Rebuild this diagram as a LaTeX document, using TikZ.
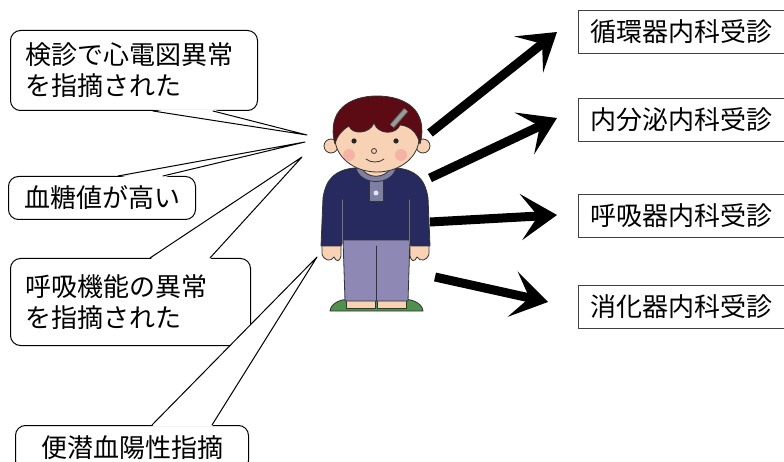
\documentclass[tikz,border=0pt]{standalone}
\usepackage{fontspec}
\setmainfont{Noto Sans CJK JP}
\usetikzlibrary{arrows.meta,calc}

\definecolor{hair}{RGB}{92,10,20}
\definecolor{skin}{RGB}{248,210,180}
\definecolor{cheek}{RGB}{242,150,150}
\definecolor{shirt}{RGB}{38,42,94}
\definecolor{collar}{RGB}{125,127,166}
\definecolor{pants}{RGB}{142,136,180}
\definecolor{shoe}{RGB}{80,145,80}

\tikzset{
  callout/.style={draw,line width=1pt,rounded corners=10pt,fill=white,inner xsep=15pt,inner ysep=4pt,anchor=north west},
  dept/.style={draw=black!75,line width=0.9pt,anchor=west,text width=206pt,align=left,inner xsep=12pt,minimum height=43pt},
  fatarrow/.style={line width=9pt,line cap=butt,-{Stealth[length=36pt,width=46pt,inset=17pt]}},
  outline/.style={draw=black!80,line width=0.8pt},
}

\begin{document}
\begin{tikzpicture}[x=1pt,y=-1pt,line cap=round,line join=round,font=\fontsize{26}{31}\selectfont]
	\useasboundingbox (0,0) rectangle (784,462);
	\clip (0,0) rectangle (784,462);
	% the boy: shoes, legs, hands, shirt
	\filldraw[outline,fill=shoe] (330,311) .. controls (331,302) and (343,298) .. (356,299) -- (397,299) .. controls (410,298) and (422,302) .. (423,311) -- cycle;
	\filldraw[outline,fill=skin] (346,296) rectangle (375,308);
	\filldraw[outline,fill=skin] (377,296) rectangle (406,308);
	\filldraw[outline,fill=pants] (343,238) -- (410,238) -- (408,301) -- (345,301) -- cycle;
	\draw[outline] (376,246) -- (376,301);
	\filldraw[outline,fill=skin] (322,244) -- (341,244) -- (341,256) .. controls (340,262) and (336,262) .. (334,257) .. controls (331,262) and (324,261) .. (322,254) -- cycle;
	\filldraw[outline,fill=skin] (429,244) -- (410,244) -- (410,256) .. controls (411,262) and (415,262) .. (417,257) .. controls (420,262) and (427,261) .. (429,254) -- cycle;
	\filldraw[outline,fill=shirt] (354,168) .. controls (336,170) and (326,178) .. (323,198) -- (321,246) -- (341,246) -- (343,240) -- (409,240) -- (411,246) -- (430,246) -- (428,198) .. controls (425,178) and (415,170) .. (397,168) -- cycle;
	\draw[black!55,line width=0.6pt] (342,200) -- (342,244);
	\draw[black!55,line width=0.6pt] (409,200) -- (409,244);
	% neck, placket and collar
	\fill[skin] (362,158) -- (362,168) .. controls (366,179) and (386,179) .. (390,168) -- (390,158) -- cycle;
	\filldraw[outline,fill=collar] (369,178) rectangle (383,201);
	\fill[white!80!collar] (376,193) circle (2.5pt);
	\filldraw[outline,fill=collar] (356,168) .. controls (360,186) and (392,186) .. (396,168) -- (390,168) .. controls (386,179) and (366,179) .. (362,168) -- cycle;
	% head
	\filldraw[outline,fill=skin] (331,146) circle (7pt);
	\filldraw[outline,fill=skin] (423,146) circle (7pt);
	\filldraw[outline,fill=skin] (377,138) ellipse (42pt and 34pt);
	\filldraw[outline,fill=hair] (335,144) .. controls (326,110) and (350,96) .. (377,96) .. controls (405,96) and (429,110) .. (420,144) .. controls (417,132) and (410,126) .. (400,125) .. controls (396,135) and (378,135) .. (374,123) .. controls (370,134) and (352,135) .. (349,126) .. controls (342,130) and (337,136) .. (335,144) -- cycle;
	\draw[black!70,line width=6pt,line cap=butt] (392,126) -- (406,110);
	\draw[gray!80,line width=4pt,line cap=butt] (392,126) -- (406,110);
	\fill[black!85] (354,141) circle (2.6pt);
	\fill[black!85] (396,141) circle (2.6pt);
	\fill[cheek,opacity=0.5] (349,155) circle (6pt);
	\fill[cheek,opacity=0.5] (401,155) circle (6pt);
	\draw[black!80,line width=0.8pt] (374,151) circle (2.5pt);
	\draw[black!80,line width=0.8pt] (366,159) .. controls (370,163) and (380,163) .. (384,159);
	% findings
	\node[callout,text width=217pt,align=left,minimum height=80pt] (ecg) at (10,30) {検診で心電図異常\\を指摘された};
	\node[callout,minimum width=187pt,minimum height=43pt] (sugar) at (8,176) {血糖値が高い};
	\node[callout,text width=210pt,align=left,minimum height=87pt] (lung) at (10,258) {呼吸機能の異常\\を指摘された};
	\node[callout,minimum width=233pt,minimum height=45pt] (stool) at (15,425) {便潜血陽性指摘};
	\coordinate (ecgtip) at (307,135);
	\coordinate (sugartip) at (305,142);
	\coordinate (lungtip) at (302,157);
	\coordinate (stooltip) at (317,257);
	\fill[white] ($(ecg.south west)+(143,-1.5)$) -- (ecgtip) -- ($(ecg.south west)+(203,-1.5)$) -- cycle;
	\draw[line width=1pt] ($(ecg.south west)+(143,0)$) -- (ecgtip) -- ($(ecg.south west)+(203,0)$);
	\fill[white] ($(sugar.north west)+(110,1.5)$) -- (sugartip) -- ($(sugar.north west)+(155,1.5)$) -- cycle;
	\draw[line width=1pt] ($(sugar.north west)+(110,0)$) -- (sugartip) -- ($(sugar.north west)+(155,0)$);
	\fill[white] ($(lung.north west)+(140,1.5)$) -- (lungtip) -- ($(lung.north west)+(200,1.5)$) -- cycle;
	\draw[line width=1pt] ($(lung.north west)+(140,0)$) -- (lungtip) -- ($(lung.north west)+(200,0)$);
	\fill[white] ($(stool.north west)+(137,1.5)$) -- (stooltip) -- ($(stool.north west)+(197,1.5)$) -- cycle;
	\draw[line width=1pt] ($(stool.north west)+(137,0)$) -- (stooltip) -- ($(stool.north west)+(197,0)$);
	% departments
	\node[dept] (cardio) at (578,31.5) {循環器内科受診};
	\node[dept] (endo) at (578,120) {内分泌内科受診};
	\node[dept] (resp) at (578,216) {呼吸器内科受診};
	\node[dept] (gastro) at (578,306.5) {消化器内科受診};
	\coordinate (boyhead) at (430,133);
	\coordinate (boychest) at (430,178);
	\coordinate (boywaist) at (430,222);
	\coordinate (boyhip) at (435,277);
	\draw[fatarrow] (boyhead) -- ($(cardio.west)+(-21,0.5)$);
	\draw[fatarrow] (boychest) -- ($(endo.west)+(-21,-2)$);
	\draw[fatarrow] (boywaist) -- ($(resp.west)+(-21,-1)$);
	\draw[fatarrow] (boyhip) -- ($(gastro.west)+(-30,-4.5)$);
\end{tikzpicture}
\end{document}
